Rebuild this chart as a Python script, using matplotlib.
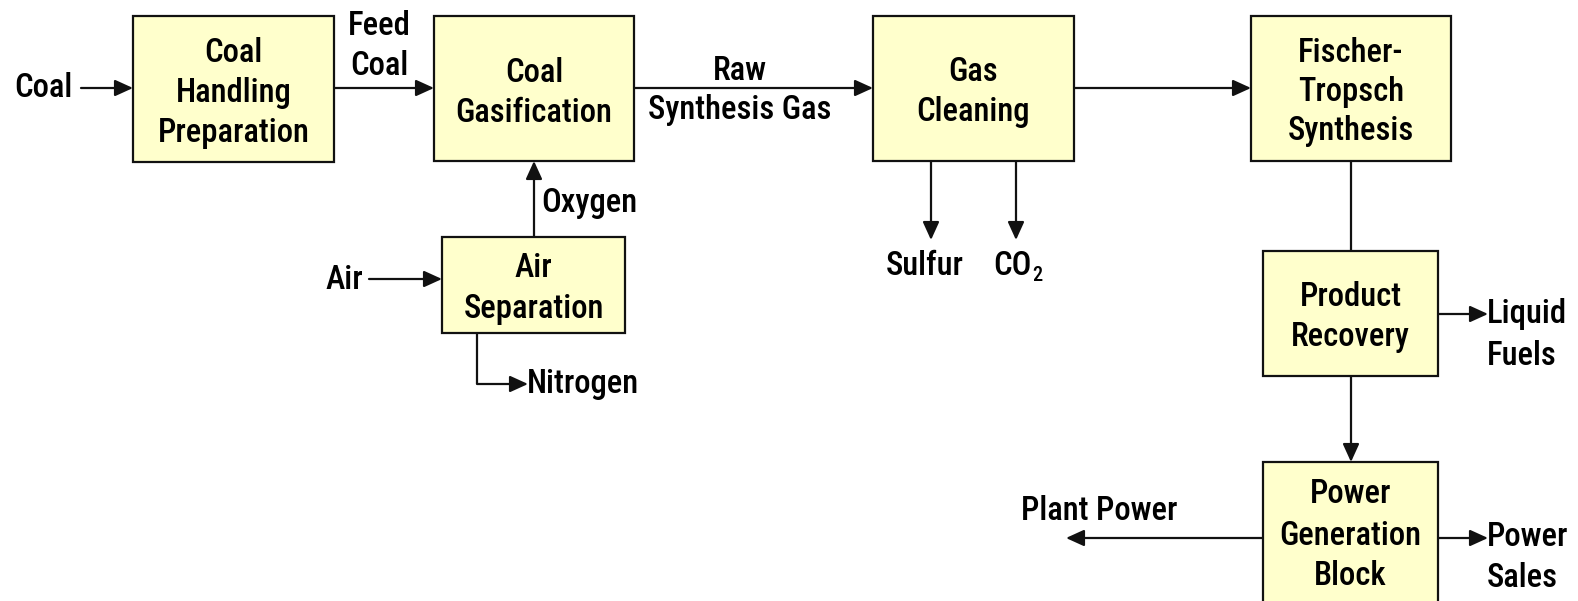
import matplotlib
matplotlib.use("Agg")
import matplotlib.pyplot as plt
from matplotlib.patches import Rectangle

# ---------------- data (labels) ----------------
box_labels = [
    ["Coal", "Handling", "Preparation"],
    ["Coal", "Gasification"],
    ["Gas", "Cleaning"],
    ["Fischer-", "Tropsch", "Synthesis"],
    ["Air", "Separation"],
    ["Product", "Recovery"],
    ["Power", "Generation", "Block"],
]
stream_labels = [
    ["Coal"],
    ["Feed", "Coal"],
    ["Raw", "Synthesis Gas"],
    ["Oxygen"],
    ["Air"],
    ["Nitrogen"],
    ["Sulfur"],
    ["Liquid", "Fuels"],
    ["Power", "Sales"],
    ["Plant Power"],
]

# ---------------- layout (pixel coordinates, y downwards) ----------------
box_rects = [  # x0, x1, y0, y1
    (133, 334, 16, 162),
    (434, 634, 16, 161),
    (873, 1074, 16, 161),
    (1251, 1451, 16, 161),
    (442, 625, 237, 333),
    (1263, 1438, 251, 376),
    (1263, 1438, 462, 640),
]
box_text_baselines = [
    [62, 102, 142],
    [82, 122],
    [81, 121],
    [62, 101, 140],
    [277, 318],
    [306, 346],
    [503, 545, 585],
]
# (x, baselines, ha)
stream_text_pos = [
    (73, [97], "right"),
    (379, [35, 75], "center"),
    (740, [80, 119], "center"),
    (541, [212], "left"),
    (363, [289], "right"),
    (527, [393], "left"),
    (925, [275], "center"),
    (1487, [323, 365], "left"),
    (1487, [546, 587], "left"),
    (1099, [520], "center"),
]
arrows = [  # (x_start, y_start, x_end, y_end)
    (81, 88, 133, 88),
    (334, 88, 434, 88),
    (634, 88, 873, 88),
    (1074, 88, 1251, 88),
    (534, 237, 534, 161),
    (369, 279, 442, 279),
    (477, 384, 528, 384),
    (931, 161, 931, 240),
    (1016, 161, 1016, 240),
    (1438, 314, 1488, 314),
    (1351, 376, 1351, 462),
    (1438, 538, 1488, 538),
    (1263, 538, 1066, 538),
]
plain_lines = [  # polylines without heads
    ([1351, 1351], [161, 251]),
    ([477, 477], [333, 384]),
]

# ---------------- styling ----------------
plt.rcParams["font.family"] = ["Roboto Condensed", "Liberation Sans", "DejaVu Sans"]
FS = 23.5
WEIGHT = "medium"
W, H = 1578, 601
fig = plt.figure(figsize=(W / 100, H / 100), dpi=100)
ax = fig.add_axes([0, 0, 1, 1])
ax.set_xlim(0, W)
ax.set_ylim(H, 0)
ax.axis("off")

box_face = "#FFFFCC"
edge = "#111111"

for (x0, x1, y0, y1), lines, bls in zip(box_rects, box_labels, box_text_baselines):
    ax.add_patch(Rectangle((x0, y0), x1 - x0, y1 - y0, facecolor=box_face,
                           edgecolor=edge, lw=1.6, zorder=2))
    cx = (x0 + x1) / 2
    for t, b in zip(lines, bls):
        ax.text(cx, b, t, ha="center", va="baseline", fontsize=FS,
                fontweight=WEIGHT, color="black", zorder=3)

for lines, (x, bls, ha) in zip(stream_labels, stream_text_pos):
    for t, b in zip(lines, bls):
        ax.text(x, b, t, ha=ha, va="baseline", fontsize=FS,
                fontweight=WEIGHT, color="black", zorder=3)

# CO2 with subscript
co = ax.text(993, 275, "CO", ha="left", va="baseline", fontsize=FS,
             fontweight=WEIGHT, color="black")
ax.annotate("2", xy=(1, 0), xycoords=co, xytext=(0.5, 1), textcoords="offset points",
            ha="left", va="baseline", fontsize=FS * 0.62, fontweight=WEIGHT)

for xs, ys in plain_lines:
    ax.plot(xs, ys, color=edge, lw=1.6, solid_capstyle="butt", zorder=1)

for xs, ys, xe, ye in arrows:
    ax.annotate("", xy=(xe, ye), xytext=(xs, ys),
                arrowprops=dict(arrowstyle="-|>,head_length=1.1,head_width=0.5",
                                mutation_scale=10, lw=1.6, color=edge,
                                shrinkA=0, shrinkB=0), zorder=1)

fig.savefig("out.png", dpi=100, facecolor="white")
